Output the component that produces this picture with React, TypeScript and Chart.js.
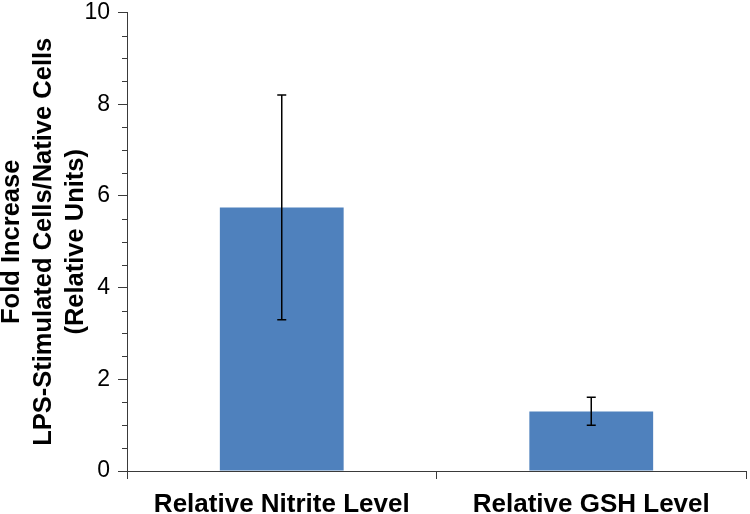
import React, { useEffect, useRef } from "react";
import { Chart, registerables } from "chart.js";

Chart.register(...registerables);

const categories = ["Relative Nitrite Level", "Relative GSH Level"];
const values = [5.75, 1.3];
const errLow = [3.3, 1.0];
const errHigh = [8.2, 1.61];
const yTicks = [0, 2, 4, 6, 8, 10];
const yTitle = ["Fold Increase", "LPS-Stimulated Cells/Native Cells", "(Relative Units)"];

const FONT = "'Liberation Sans', Arial, sans-serif";
const AXIS = "#3a3a3a";

const errorBarPlugin = {
  id: "errorBars",
  afterDatasetsDraw(chart: any) {
    const ctx = chart.ctx;
    const meta = chart.getDatasetMeta(0);
    const y = chart.scales.y;
    ctx.save();
    ctx.strokeStyle = "#000";
    ctx.lineWidth = 1.5;
    meta.data.forEach((bar: any, i: number) => {
      const x = bar.x;
      const yl = y.getPixelForValue(errLow[i]);
      const yh = y.getPixelForValue(errHigh[i]);
      ctx.beginPath();
      ctx.moveTo(x, yl);
      ctx.lineTo(x, yh);
      ctx.moveTo(x - 4.5, yl);
      ctx.lineTo(x + 4.5, yl);
      ctx.moveTo(x - 4.5, yh);
      ctx.lineTo(x + 4.5, yh);
      ctx.stroke();
    });
    ctx.restore();
  },
};

const minorTickPlugin = {
  id: "minorTicks",
  afterDraw(chart: any) {
    const ctx = chart.ctx;
    const y = chart.scales.y;
    const left = chart.chartArea.left;
    ctx.save();
    ctx.strokeStyle = AXIS;
    ctx.lineWidth = 1;
    for (let k = 0; k < yTicks.length - 1; k++) {
      for (let m = 1; m < 4; m++) {
        const v = yTicks[k] + ((yTicks[k + 1] - yTicks[k]) * m) / 4;
        const py = Math.round(y.getPixelForValue(v)) + 0.5;
        ctx.beginPath();
        ctx.moveTo(left - 5, py);
        ctx.lineTo(left, py);
        ctx.stroke();
      }
    }
    ctx.restore();
  },
};

export default function App() {
  const ref = useRef<HTMLCanvasElement>(null);
  useEffect(() => {
    document.body.style.margin = "0";
    const chart = new Chart(ref.current as HTMLCanvasElement, {
      type: "bar",
      data: {
        labels: categories,
        datasets: [
          {
            data: values,
            backgroundColor: "#4F81BD",
            barPercentage: 0.4,
            categoryPercentage: 1,
          },
        ],
      },
      options: {
        responsive: false,
        animation: false,
        layout: { padding: { top: 0, right: 4, left: 0, bottom: 0 } },
        plugins: { legend: { display: false }, tooltip: { enabled: false } },
        scales: {
          x: {
            offset: true,
            border: { display: true, color: AXIS, width: 1 },
            grid: {
              display: true,
              offset: true,
              drawOnChartArea: false,
              drawTicks: true,
              tickLength: 8,
              color: AXIS,
            },
            ticks: {
              color: "#000",
              padding: 10,
              font: { family: FONT, size: 26, weight: "bold" },
              maxRotation: 0,
            },
            afterFit(scale: any) {
              scale.height = 43;
            },
          },
          y: {
            min: 0,
            max: 10,
            border: { display: true, color: AXIS, width: 1 },
            grid: {
              display: true,
              drawOnChartArea: false,
              drawTicks: true,
              tickLength: 9,
              color: AXIS,
            },
            ticks: {
              stepSize: 2,
              color: "#000",
              padding: 8,
              font: { family: FONT, size: 23, lineHeight: 0.4 },
              callback: (v: any) => (yTicks.includes(Number(v)) ? String(v) : ""),
            },
            title: {
              display: true,
              text: yTitle,
              color: "#000",
              font: { family: FONT, size: 25.5, weight: "bold", lineHeight: 1.255 },
              padding: { top: -4, bottom: 0 },
            },
            afterFit(scale: any) {
              scale.width = 127;
            },
          },
        },
      },
      plugins: [errorBarPlugin, minorTickPlugin],
    });
    return () => chart.destroy();
  }, []);
  return <canvas ref={ref} width={750} height={514} style={{ display: "block" }} />;
}
